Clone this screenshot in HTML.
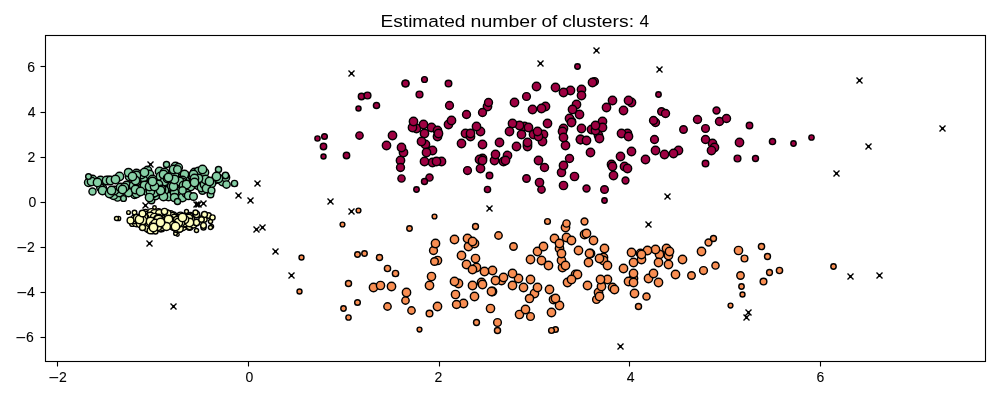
<!DOCTYPE html>
<html lang="en">
<head>
<meta charset="utf-8">
<title>Estimated number of clusters: 4</title>
<style>
html,body{margin:0;padding:0;background:#fff;}
body{width:1000px;height:400px;overflow:hidden;}
svg{display:block;}
text{font-family:"Liberation Sans",sans-serif;fill:#000;}
</style>
</head>
<body>
<svg width="1000" height="400" viewBox="0 0 1000 400">
<rect x="0" y="0" width="1000" height="400" fill="#fff"/>
<g fill="#9e0142" stroke="#000" stroke-width="1.430">
<circle cx="527.5" cy="144.5" r="4.17"/>
<circle cx="544.5" cy="167.5" r="4.04"/>
<circle cx="655.5" cy="122.5" r="4.02"/>
<circle cx="499.5" cy="142.5" r="4.17"/>
<circle cx="576.5" cy="104.5" r="4.17"/>
<circle cx="482.5" cy="158.5" r="4.17"/>
<circle cx="661.5" cy="111.5" r="3.8"/>
<circle cx="606.5" cy="107.5" r="4.17"/>
<circle cx="533.5" cy="134.5" r="4.17"/>
<circle cx="467.5" cy="170.5" r="3.91"/>
<circle cx="602.5" cy="121.5" r="4.17"/>
<circle cx="431.5" cy="127.5" r="4.17"/>
<circle cx="547.5" cy="123.5" r="4.17"/>
<circle cx="424.5" cy="79.5" r="2.9"/>
<circle cx="581.5" cy="89.5" r="4.17"/>
<circle cx="392.5" cy="135.5" r="4.17"/>
<circle cx="565.5" cy="145.5" r="4.17"/>
<circle cx="437.5" cy="130.5" r="4.17"/>
<circle cx="514.5" cy="102.5" r="4.17"/>
<circle cx="579.5" cy="114.5" r="4.17"/>
<circle cx="323.5" cy="156.5" r="2.52"/>
<circle cx="571.5" cy="121.5" r="4.17"/>
<circle cx="604.5" cy="189.5" r="3.82"/>
<circle cx="527.5" cy="146.5" r="4.17"/>
<circle cx="627.5" cy="133.5" r="4.17"/>
<circle cx="577.5" cy="66.5" r="2.73"/>
<circle cx="521.5" cy="134.5" r="4.17"/>
<circle cx="503.5" cy="161.5" r="4.17"/>
<circle cx="405.5" cy="83.5" r="3.4"/>
<circle cx="346.5" cy="155.5" r="3.19"/>
<circle cx="705.5" cy="163.5" r="3.27"/>
<circle cx="570.5" cy="90.5" r="4.17"/>
<circle cx="424.5" cy="133.5" r="4.17"/>
<circle cx="465.5" cy="133.5" r="4.17"/>
<circle cx="480.5" cy="131.5" r="4.17"/>
<circle cx="425.5" cy="144.5" r="4.17"/>
<circle cx="621.5" cy="133.5" r="4.17"/>
<circle cx="631.5" cy="102.5" r="4.17"/>
<circle cx="432.5" cy="150.5" r="4.17"/>
<circle cx="516.5" cy="146.5" r="4.17"/>
<circle cx="524.5" cy="126.5" r="4.17"/>
<circle cx="664.5" cy="154.5" r="4.17"/>
<circle cx="541.5" cy="189.5" r="3.68"/>
<circle cx="361.5" cy="96.5" r="3.19"/>
<circle cx="528.5" cy="127.5" r="4.17"/>
<circle cx="569.5" cy="118.5" r="4.17"/>
<circle cx="400.5" cy="160.5" r="4.17"/>
<circle cx="561.5" cy="172.5" r="4.1"/>
<circle cx="487.5" cy="189.5" r="3.1"/>
<circle cx="519.5" cy="125.5" r="4.17"/>
<circle cx="482.5" cy="144.5" r="4.17"/>
<circle cx="712.5" cy="143.5" r="4.17"/>
<circle cx="545.5" cy="106.5" r="4.17"/>
<circle cx="572.5" cy="109.5" r="4.17"/>
<circle cx="604.5" cy="200.5" r="2.68"/>
<circle cx="586.5" cy="188.5" r="3.51"/>
<circle cx="461.5" cy="143.5" r="4.17"/>
<circle cx="401.5" cy="178.5" r="3.61"/>
<circle cx="376.5" cy="105.5" r="3.07"/>
<circle cx="581.5" cy="95.5" r="4.17"/>
<circle cx="543.5" cy="134.5" r="4.17"/>
<circle cx="421.5" cy="141.5" r="4.17"/>
<circle cx="569.5" cy="158.5" r="4.04"/>
<circle cx="487.5" cy="106.5" r="4.17"/>
<circle cx="512.5" cy="123.5" r="4.17"/>
<circle cx="580.5" cy="139.5" r="4.17"/>
<circle cx="581.5" cy="128.5" r="4.17"/>
<circle cx="479.5" cy="159.5" r="4.17"/>
<circle cx="624.5" cy="166.5" r="4.17"/>
<circle cx="625.5" cy="180.5" r="3.44"/>
<circle cx="628.5" cy="100.5" r="4.17"/>
<circle cx="448.5" cy="124.5" r="4.17"/>
<circle cx="739.5" cy="142.5" r="4.17"/>
<circle cx="509.5" cy="131.5" r="4.17"/>
<circle cx="678.5" cy="150.5" r="4.17"/>
<circle cx="697.5" cy="119.5" r="4.03"/>
<circle cx="432.5" cy="162.5" r="4.17"/>
<circle cx="419.5" cy="94.5" r="3.4"/>
<circle cx="405.5" cy="83.5" r="3.4"/>
<circle cx="358.5" cy="108.5" r="2.54"/>
<circle cx="476.5" cy="126.5" r="4.17"/>
<circle cx="470.5" cy="136.5" r="4.17"/>
<circle cx="416.5" cy="128.5" r="4.17"/>
<circle cx="714.5" cy="147.5" r="4.17"/>
<circle cx="654.5" cy="139.5" r="3.92"/>
<circle cx="653.5" cy="120.5" r="3.94"/>
<circle cx="591.5" cy="129.5" r="4.17"/>
<circle cx="716.5" cy="110.5" r="3.49"/>
<circle cx="359.5" cy="135.5" r="3.66"/>
<circle cx="793.5" cy="143.5" r="2.67"/>
<circle cx="563.5" cy="128.5" r="4.17"/>
<circle cx="541.5" cy="108.5" r="4.17"/>
<circle cx="594.5" cy="81.5" r="3.86"/>
<circle cx="749.5" cy="125.5" r="3.22"/>
<circle cx="542.5" cy="141.5" r="4.17"/>
<circle cx="590.5" cy="152.5" r="4.17"/>
<circle cx="386.5" cy="145.5" r="4.17"/>
<circle cx="611.5" cy="164.5" r="4.17"/>
<circle cx="367.5" cy="95.5" r="3.4"/>
<circle cx="494.5" cy="160.5" r="4.17"/>
<circle cx="488.5" cy="102.5" r="3.99"/>
<circle cx="448.5" cy="83.5" r="3.29"/>
<circle cx="563.5" cy="92.5" r="4.17"/>
<circle cx="737.5" cy="158.5" r="3.36"/>
<circle cx="437.5" cy="136.5" r="4.17"/>
<circle cx="655.5" cy="150.5" r="4.17"/>
<circle cx="612.5" cy="100.5" r="4.17"/>
<circle cx="627.5" cy="168.5" r="4.17"/>
<circle cx="574.5" cy="176.5" r="4.14"/>
<circle cx="711.5" cy="150.5" r="4.17"/>
<circle cx="719.5" cy="121.5" r="4.03"/>
<circle cx="538.5" cy="136.5" r="4.17"/>
<circle cx="323.5" cy="146.5" r="3.19"/>
<circle cx="598.5" cy="135.5" r="4.17"/>
<circle cx="449.5" cy="105.5" r="3.92"/>
<circle cx="423.5" cy="124.5" r="4.17"/>
<circle cx="441.5" cy="161.5" r="4.17"/>
<circle cx="620.5" cy="156.5" r="4.17"/>
<circle cx="416.5" cy="189.5" r="2.73"/>
<circle cx="562.5" cy="131.5" r="4.17"/>
<circle cx="537.5" cy="131.5" r="4.17"/>
<circle cx="438.5" cy="133.5" r="4.17"/>
<circle cx="436.5" cy="161.5" r="4.17"/>
<circle cx="673.5" cy="153.5" r="4.17"/>
<circle cx="539.5" cy="182.5" r="4.14"/>
<circle cx="595.5" cy="130.5" r="4.17"/>
<circle cx="726.5" cy="118.5" r="4.03"/>
<circle cx="599.5" cy="138.5" r="4.17"/>
<circle cx="683.5" cy="129.5" r="3.75"/>
<circle cx="612.5" cy="166.5" r="4.17"/>
<circle cx="466.5" cy="114.5" r="3.97"/>
<circle cx="555.5" cy="87.5" r="4.17"/>
<circle cx="400.5" cy="167.5" r="3.97"/>
<circle cx="527.5" cy="142.5" r="4.17"/>
<circle cx="536.5" cy="86.5" r="4.17"/>
<circle cx="495.5" cy="154.5" r="4.17"/>
<circle cx="592.5" cy="82.5" r="4.17"/>
<circle cx="705.5" cy="128.5" r="3.87"/>
<circle cx="613.5" cy="175.5" r="4.17"/>
<circle cx="429.5" cy="177.5" r="3.59"/>
<circle cx="811.5" cy="137.5" r="2.64"/>
<circle cx="602.5" cy="127.5" r="4.17"/>
<circle cx="628.5" cy="136.5" r="4.17"/>
<circle cx="403.5" cy="152.5" r="4.17"/>
<circle cx="451.5" cy="120.5" r="4.17"/>
<circle cx="482.5" cy="112.5" r="3.94"/>
<circle cx="580.5" cy="139.5" r="4.17"/>
<circle cx="480.5" cy="168.5" r="4.17"/>
<circle cx="317.5" cy="138.5" r="2.61"/>
<circle cx="658.5" cy="94.5" r="2.7"/>
<circle cx="424.5" cy="161.5" r="4.17"/>
<circle cx="424.5" cy="181.5" r="3.01"/>
<circle cx="755.5" cy="158.5" r="2.99"/>
<circle cx="401.5" cy="147.5" r="4.17"/>
<circle cx="507.5" cy="155.5" r="4.17"/>
<circle cx="489.5" cy="175.5" r="3.28"/>
<circle cx="705.5" cy="139.5" r="4.01"/>
<circle cx="470.5" cy="133.5" r="4.17"/>
<circle cx="586.5" cy="140.5" r="4.17"/>
<circle cx="563.5" cy="185.5" r="4.14"/>
<circle cx="772.5" cy="141.5" r="3.09"/>
<circle cx="505.5" cy="160.5" r="4.17"/>
<circle cx="532.5" cy="109.5" r="4.17"/>
<circle cx="631.5" cy="151.5" r="4.17"/>
<circle cx="482.5" cy="160.5" r="4.17"/>
<circle cx="645.5" cy="159.5" r="4.17"/>
<circle cx="595.5" cy="125.5" r="4.17"/>
<circle cx="412.5" cy="127.5" r="4.17"/>
<circle cx="563.5" cy="137.5" r="4.17"/>
<circle cx="538.5" cy="160.5" r="4.17"/>
<circle cx="665.5" cy="113.5" r="4.03"/>
<circle cx="571.5" cy="122.5" r="4.17"/>
<circle cx="623.5" cy="110.5" r="4.17"/>
<circle cx="526.5" cy="96.5" r="3.89"/>
<circle cx="526.5" cy="178.5" r="3.72"/>
<circle cx="563.5" cy="165.5" r="4.17"/>
<circle cx="324.5" cy="136.5" r="2.83"/>
<circle cx="426.5" cy="152.5" r="4.17"/>
<circle cx="413.5" cy="121.5" r="4.17"/>
</g>
<g fill="#f98e52" stroke="#000" stroke-width="1.430">
<circle cx="357.5" cy="302.5" r="2.83"/>
<circle cx="513.5" cy="246.5" r="3.73"/>
<circle cx="703.5" cy="270.5" r="3.91"/>
<circle cx="463.5" cy="303.5" r="4.17"/>
<circle cx="474.5" cy="296.5" r="4.17"/>
<circle cx="492.5" cy="270.5" r="4.17"/>
<circle cx="633.5" cy="262.5" r="4.17"/>
<circle cx="634.5" cy="293.5" r="4.17"/>
<circle cx="603.5" cy="257.5" r="4.17"/>
<circle cx="593.5" cy="240.5" r="4.17"/>
<circle cx="761.5" cy="246.5" r="3.09"/>
<circle cx="668.5" cy="264.5" r="4.17"/>
<circle cx="562.5" cy="267.5" r="4.17"/>
<circle cx="741.5" cy="286.5" r="2.69"/>
<circle cx="501.5" cy="280.5" r="4.17"/>
<circle cx="554.5" cy="238.5" r="4.17"/>
<circle cx="492.5" cy="291.5" r="4.17"/>
<circle cx="640.5" cy="253.5" r="4.17"/>
<circle cx="534.5" cy="293.5" r="4.17"/>
<circle cx="495.5" cy="280.5" r="4.17"/>
<circle cx="518.5" cy="278.5" r="4.17"/>
<circle cx="491.5" cy="291.5" r="4.17"/>
<circle cx="561.5" cy="260.5" r="4.17"/>
<circle cx="658.5" cy="282.5" r="4.17"/>
<circle cx="682.5" cy="259.5" r="4.17"/>
<circle cx="458.5" cy="283.5" r="4.17"/>
<circle cx="559.5" cy="248.5" r="4.17"/>
<circle cx="744.5" cy="258.5" r="3.35"/>
<circle cx="553.5" cy="299.5" r="4.17"/>
<circle cx="497.5" cy="322.5" r="3.87"/>
<circle cx="411.5" cy="310.5" r="3.69"/>
<circle cx="454.5" cy="281.5" r="4.17"/>
<circle cx="433.5" cy="250.5" r="3.95"/>
<circle cx="472.5" cy="285.5" r="4.17"/>
<circle cx="476.5" cy="267.5" r="4.17"/>
<circle cx="466.5" cy="264.5" r="4.17"/>
<circle cx="419.5" cy="329.5" r="2.41"/>
<circle cx="484.5" cy="271.5" r="4.17"/>
<circle cx="530.5" cy="316.5" r="3.87"/>
<circle cx="598.5" cy="292.5" r="4.17"/>
<circle cx="646.5" cy="296.5" r="3.56"/>
<circle cx="468.5" cy="246.5" r="4.17"/>
<circle cx="490.5" cy="308.5" r="4.12"/>
<circle cx="357.5" cy="254.5" r="2.77"/>
<circle cx="565.5" cy="227.5" r="4.17"/>
<circle cx="659.5" cy="254.5" r="4.17"/>
<circle cx="715.5" cy="265.5" r="3.59"/>
<circle cx="641.5" cy="259.5" r="4.17"/>
<circle cx="530.5" cy="279.5" r="4.17"/>
<circle cx="769.5" cy="272.5" r="2.93"/>
<circle cx="373.5" cy="287.5" r="4.17"/>
<circle cx="395.5" cy="273.5" r="3.13"/>
<circle cx="435.5" cy="243.5" r="4.17"/>
<circle cx="833.5" cy="266.5" r="2.67"/>
<circle cx="429.5" cy="313.5" r="3.33"/>
<circle cx="666.5" cy="248.5" r="4.17"/>
<circle cx="675.5" cy="274.5" r="4.17"/>
<circle cx="391.5" cy="286.5" r="4.17"/>
<circle cx="740.5" cy="275.5" r="3.71"/>
<circle cx="429.5" cy="285.5" r="4.17"/>
<circle cx="779.5" cy="270.5" r="3.12"/>
<circle cx="633.5" cy="278.5" r="4.17"/>
<circle cx="603.5" cy="260.5" r="4.17"/>
<circle cx="612.5" cy="287.5" r="4.17"/>
<circle cx="519.5" cy="314.5" r="4.12"/>
<circle cx="565.5" cy="265.5" r="4.17"/>
<circle cx="348.5" cy="317.5" r="2.64"/>
<circle cx="730.5" cy="305.5" r="2.41"/>
<circle cx="584.5" cy="234.5" r="4.17"/>
<circle cx="631.5" cy="252.5" r="4.17"/>
<circle cx="655.5" cy="249.5" r="4.17"/>
<circle cx="405.5" cy="300.5" r="3.69"/>
<circle cx="648.5" cy="278.5" r="4.17"/>
<circle cx="607.5" cy="279.5" r="4.17"/>
<circle cx="575.5" cy="274.5" r="4.17"/>
<circle cx="555.5" cy="329.5" r="2.81"/>
<circle cx="481.5" cy="282.5" r="4.17"/>
<circle cx="348.5" cy="283.5" r="3.02"/>
<circle cx="668.5" cy="255.5" r="4.17"/>
<circle cx="455.5" cy="294.5" r="4.12"/>
<circle cx="628.5" cy="281.5" r="4.17"/>
<circle cx="669.5" cy="251.5" r="4.17"/>
<circle cx="590.5" cy="253.5" r="4.17"/>
<circle cx="537.5" cy="287.5" r="4.17"/>
<circle cx="549.5" cy="289.5" r="4.17"/>
<circle cx="497.5" cy="330.5" r="3.04"/>
<circle cx="607.5" cy="265.5" r="4.17"/>
<circle cx="498.5" cy="235.5" r="3.7"/>
<circle cx="434.5" cy="216.5" r="2.39"/>
<circle cx="387.5" cy="268.5" r="3.11"/>
<circle cx="475.5" cy="258.5" r="4.14"/>
<circle cx="691.5" cy="275.5" r="3.77"/>
<circle cx="431.5" cy="276.5" r="4.1"/>
<circle cx="523.5" cy="287.5" r="4.17"/>
<circle cx="599.5" cy="258.5" r="4.17"/>
<circle cx="461.5" cy="255.5" r="4.17"/>
<circle cx="342.5" cy="224.5" r="2.37"/>
<circle cx="633.5" cy="273.5" r="4.17"/>
<circle cx="437.5" cy="260.5" r="4.14"/>
<circle cx="638.5" cy="306.5" r="3.02"/>
<circle cx="474.5" cy="243.5" r="4.17"/>
<circle cx="701.5" cy="251.5" r="4.17"/>
<circle cx="566.5" cy="223.5" r="3.62"/>
<circle cx="647.5" cy="250.5" r="4.17"/>
<circle cx="467.5" cy="238.5" r="4.17"/>
<circle cx="596.5" cy="299.5" r="3.87"/>
<circle cx="364.5" cy="253.5" r="2.72"/>
<circle cx="512.5" cy="285.5" r="4.17"/>
<circle cx="641.5" cy="254.5" r="4.17"/>
<circle cx="601.5" cy="286.5" r="4.17"/>
<circle cx="566.5" cy="237.5" r="4.17"/>
<circle cx="577.5" cy="274.5" r="4.17"/>
<circle cx="551.5" cy="330.5" r="2.87"/>
<circle cx="586.5" cy="233.5" r="4.17"/>
<circle cx="548.5" cy="265.5" r="4.17"/>
<circle cx="571.5" cy="240.5" r="4.17"/>
<circle cx="358.5" cy="210.5" r="2.39"/>
<circle cx="567.5" cy="282.5" r="4.17"/>
<circle cx="559.5" cy="305.5" r="4.17"/>
<circle cx="600.5" cy="279.5" r="4.17"/>
<circle cx="584.5" cy="221.5" r="3.43"/>
<circle cx="555.5" cy="298.5" r="4.17"/>
<circle cx="512.5" cy="273.5" r="4.17"/>
<circle cx="623.5" cy="268.5" r="4.17"/>
<circle cx="589.5" cy="253.5" r="4.17"/>
<circle cx="604.5" cy="248.5" r="4.17"/>
<circle cx="708.5" cy="242.5" r="3.46"/>
<circle cx="633.5" cy="282.5" r="4.17"/>
<circle cx="387.5" cy="306.5" r="3.69"/>
<circle cx="472.5" cy="269.5" r="4.17"/>
<circle cx="476.5" cy="322.5" r="2.96"/>
<circle cx="530.5" cy="259.5" r="4.17"/>
<circle cx="437.5" cy="306.5" r="4.17"/>
<circle cx="343.5" cy="308.5" r="2.69"/>
<circle cx="559.5" cy="243.5" r="4.17"/>
<circle cx="561.5" cy="253.5" r="4.17"/>
<circle cx="547.5" cy="221.5" r="2.88"/>
<circle cx="653.5" cy="273.5" r="4.17"/>
<circle cx="551.5" cy="312.5" r="4.17"/>
<circle cx="301.5" cy="257.5" r="2.47"/>
<circle cx="503.5" cy="277.5" r="4.17"/>
<circle cx="767.5" cy="256.5" r="2.98"/>
<circle cx="525.5" cy="309.5" r="4.17"/>
<circle cx="587.5" cy="285.5" r="4.17"/>
<circle cx="537.5" cy="251.5" r="4.17"/>
<circle cx="409.5" cy="228.5" r="2.72"/>
<circle cx="475.5" cy="226.5" r="2.96"/>
<circle cx="456.5" cy="304.5" r="4.02"/>
<circle cx="763.5" cy="281.5" r="3.34"/>
<circle cx="380.5" cy="285.5" r="4.11"/>
<circle cx="571.5" cy="279.5" r="4.17"/>
<circle cx="454.5" cy="239.5" r="4.17"/>
<circle cx="541.5" cy="260.5" r="4.17"/>
<circle cx="738.5" cy="250.5" r="4.13"/>
<circle cx="434.5" cy="261.5" r="3.82"/>
<circle cx="472.5" cy="241.5" r="4.17"/>
<circle cx="713.5" cy="238.5" r="2.97"/>
<circle cx="614.5" cy="289.5" r="4.17"/>
<circle cx="742.5" cy="294.5" r="2.48"/>
<circle cx="599.5" cy="296.5" r="4.17"/>
<circle cx="578.5" cy="250.5" r="4.17"/>
<circle cx="588.5" cy="262.5" r="4.17"/>
<circle cx="658.5" cy="262.5" r="4.17"/>
<circle cx="529.5" cy="298.5" r="4.09"/>
<circle cx="379.5" cy="257.5" r="3.06"/>
<circle cx="543.5" cy="246.5" r="4.17"/>
<circle cx="482.5" cy="284.5" r="4.17"/>
<circle cx="299.5" cy="291.5" r="2.49"/>
<circle cx="406.5" cy="292.5" r="4.17"/>
</g>
<g fill="#ffffbe" stroke="#000" stroke-width="1.430">
<circle cx="159.5" cy="219.5" r="4.17"/>
<circle cx="152.5" cy="224.5" r="4.17"/>
<circle cx="190.5" cy="215.5" r="3.11"/>
<circle cx="189.5" cy="226.5" r="3.88"/>
<circle cx="185.5" cy="220.5" r="4.17"/>
<circle cx="145.5" cy="217.5" r="4.17"/>
<circle cx="154.5" cy="207.5" r="1.76"/>
<circle cx="179.5" cy="217.5" r="4.17"/>
<circle cx="147.5" cy="218.5" r="4.17"/>
<circle cx="159.5" cy="222.5" r="4.17"/>
<circle cx="161.5" cy="221.5" r="4.17"/>
<circle cx="172.5" cy="225.5" r="4.17"/>
<circle cx="159.5" cy="215.5" r="4.01"/>
<circle cx="154.5" cy="222.5" r="4.17"/>
<circle cx="158.5" cy="212.5" r="3.8"/>
<circle cx="203.5" cy="217.5" r="2.96"/>
<circle cx="184.5" cy="224.5" r="4.17"/>
<circle cx="143.5" cy="217.5" r="4.17"/>
<circle cx="160.5" cy="222.5" r="4.17"/>
<circle cx="153.5" cy="214.5" r="3.84"/>
<circle cx="128.5" cy="212.5" r="1.85"/>
<circle cx="147.5" cy="216.5" r="4.17"/>
<circle cx="136.5" cy="219.5" r="4.17"/>
<circle cx="144.5" cy="223.5" r="4.17"/>
<circle cx="208.5" cy="215.5" r="2.81"/>
<circle cx="155.5" cy="218.5" r="4.17"/>
<circle cx="183.5" cy="222.5" r="4.17"/>
<circle cx="196.5" cy="230.5" r="2.07"/>
<circle cx="155.5" cy="223.5" r="4.17"/>
<circle cx="166.5" cy="222.5" r="4.17"/>
<circle cx="211.5" cy="226.5" r="2.04"/>
<circle cx="161.5" cy="228.5" r="3.34"/>
<circle cx="165.5" cy="216.5" r="4.17"/>
<circle cx="173.5" cy="215.5" r="3.57"/>
<circle cx="183.5" cy="224.5" r="4.17"/>
<circle cx="157.5" cy="223.5" r="4.17"/>
<circle cx="170.5" cy="223.5" r="4.17"/>
<circle cx="154.5" cy="214.5" r="3.88"/>
<circle cx="174.5" cy="226.5" r="4.17"/>
<circle cx="177.5" cy="234.5" r="1.69"/>
<circle cx="210.5" cy="227.5" r="2.07"/>
<circle cx="186.5" cy="211.5" r="1.97"/>
<circle cx="134.5" cy="212.5" r="2.3"/>
<circle cx="152.5" cy="229.5" r="4.17"/>
<circle cx="160.5" cy="227.5" r="4.17"/>
<circle cx="167.5" cy="224.5" r="4.17"/>
<circle cx="181.5" cy="226.5" r="4.14"/>
<circle cx="179.5" cy="228.5" r="3.76"/>
<circle cx="182.5" cy="226.5" r="4.17"/>
<circle cx="167.5" cy="220.5" r="4.17"/>
<circle cx="154.5" cy="223.5" r="4.17"/>
<circle cx="185.5" cy="219.5" r="4.17"/>
<circle cx="164.5" cy="216.5" r="4.17"/>
<circle cx="150.5" cy="219.5" r="4.17"/>
<circle cx="169.5" cy="219.5" r="4.17"/>
<circle cx="161.5" cy="220.5" r="4.17"/>
<circle cx="180.5" cy="221.5" r="4.17"/>
<circle cx="145.5" cy="217.5" r="4.17"/>
<circle cx="164.5" cy="222.5" r="4.17"/>
<circle cx="138.5" cy="221.5" r="4.02"/>
<circle cx="180.5" cy="223.5" r="4.17"/>
<circle cx="185.5" cy="222.5" r="4.17"/>
<circle cx="160.5" cy="220.5" r="4.17"/>
<circle cx="175.5" cy="233.5" r="1.84"/>
<circle cx="118.5" cy="218.5" r="2.14"/>
<circle cx="196.5" cy="214.5" r="3.19"/>
<circle cx="165.5" cy="219.5" r="4.17"/>
<circle cx="187.5" cy="223.5" r="4.17"/>
<circle cx="132.5" cy="223.5" r="2.89"/>
<circle cx="156.5" cy="222.5" r="4.17"/>
<circle cx="136.5" cy="222.5" r="4.17"/>
<circle cx="152.5" cy="218.5" r="4.17"/>
<circle cx="154.5" cy="221.5" r="4.17"/>
<circle cx="190.5" cy="219.5" r="4.17"/>
<circle cx="172.5" cy="218.5" r="4.17"/>
<circle cx="170.5" cy="219.5" r="4.17"/>
<circle cx="189.5" cy="226.5" r="3.11"/>
<circle cx="145.5" cy="212.5" r="3.1"/>
<circle cx="193.5" cy="224.5" r="3.4"/>
<circle cx="134.5" cy="219.5" r="4.17"/>
<circle cx="167.5" cy="219.5" r="4.17"/>
<circle cx="155.5" cy="223.5" r="4.17"/>
<circle cx="180.5" cy="219.5" r="4.17"/>
<circle cx="146.5" cy="221.5" r="4.14"/>
<circle cx="182.5" cy="220.5" r="4.17"/>
<circle cx="116.5" cy="218.5" r="2"/>
<circle cx="195.5" cy="212.5" r="2.53"/>
<circle cx="166.5" cy="219.5" r="4.17"/>
<circle cx="180.5" cy="215.5" r="3.35"/>
<circle cx="189.5" cy="216.5" r="3.35"/>
<circle cx="169.5" cy="218.5" r="4.17"/>
<circle cx="147.5" cy="215.5" r="4.17"/>
<circle cx="151.5" cy="212.5" r="3.88"/>
<circle cx="159.5" cy="224.5" r="4.17"/>
<circle cx="137.5" cy="218.5" r="4.17"/>
<circle cx="150.5" cy="223.5" r="4.17"/>
<circle cx="204.5" cy="219.5" r="2.64"/>
<circle cx="177.5" cy="222.5" r="4.17"/>
<circle cx="166.5" cy="221.5" r="4.17"/>
<circle cx="176.5" cy="228.5" r="3.74"/>
<circle cx="162.5" cy="226.5" r="4.03"/>
<circle cx="160.5" cy="220.5" r="4.17"/>
<circle cx="130.5" cy="220.5" r="3.36"/>
<circle cx="182.5" cy="223.5" r="4.17"/>
<circle cx="149.5" cy="223.5" r="4.17"/>
<circle cx="155.5" cy="223.5" r="4.17"/>
<circle cx="146.5" cy="224.5" r="4.17"/>
<circle cx="152.5" cy="227.5" r="4.17"/>
<circle cx="181.5" cy="220.5" r="4.17"/>
<circle cx="170.5" cy="214.5" r="3.91"/>
<circle cx="163.5" cy="223.5" r="4.17"/>
<circle cx="175.5" cy="218.5" r="4.17"/>
<circle cx="172.5" cy="221.5" r="4.17"/>
<circle cx="142.5" cy="223.5" r="4.17"/>
<circle cx="172.5" cy="225.5" r="4.17"/>
<circle cx="145.5" cy="222.5" r="4.17"/>
<circle cx="170.5" cy="218.5" r="4.17"/>
<circle cx="204.5" cy="214.5" r="2.96"/>
<circle cx="164.5" cy="216.5" r="4.17"/>
<circle cx="155.5" cy="223.5" r="4.17"/>
<circle cx="171.5" cy="216.5" r="4.17"/>
<circle cx="185.5" cy="222.5" r="4.17"/>
<circle cx="154.5" cy="213.5" r="3.88"/>
<circle cx="175.5" cy="219.5" r="4.17"/>
<circle cx="185.5" cy="219.5" r="4.17"/>
<circle cx="150.5" cy="216.5" r="4.17"/>
<circle cx="162.5" cy="217.5" r="4.17"/>
<circle cx="159.5" cy="213.5" r="3.88"/>
<circle cx="175.5" cy="224.5" r="4.17"/>
<circle cx="168.5" cy="222.5" r="4.17"/>
<circle cx="154.5" cy="226.5" r="4.17"/>
<circle cx="176.5" cy="221.5" r="4.17"/>
<circle cx="203.5" cy="227.5" r="2.5"/>
<circle cx="174.5" cy="218.5" r="4.17"/>
<circle cx="170.5" cy="222.5" r="4.17"/>
<circle cx="144.5" cy="217.5" r="4.17"/>
<circle cx="188.5" cy="218.5" r="4.17"/>
<circle cx="196.5" cy="222.5" r="3.18"/>
<circle cx="160.5" cy="220.5" r="4.17"/>
<circle cx="166.5" cy="213.5" r="3.52"/>
<circle cx="140.5" cy="223.5" r="4.17"/>
<circle cx="170.5" cy="220.5" r="4.17"/>
<circle cx="165.5" cy="224.5" r="4.17"/>
<circle cx="158.5" cy="221.5" r="4.17"/>
<circle cx="145.5" cy="223.5" r="4.17"/>
<circle cx="152.5" cy="227.5" r="4.17"/>
<circle cx="156.5" cy="221.5" r="4.17"/>
<circle cx="212.5" cy="217.5" r="2.62"/>
<circle cx="143.5" cy="217.5" r="4.17"/>
<circle cx="189.5" cy="222.5" r="4.17"/>
<circle cx="167.5" cy="213.5" r="3.42"/>
<circle cx="165.5" cy="224.5" r="4.17"/>
<circle cx="148.5" cy="228.5" r="4.17"/>
<circle cx="147.5" cy="227.5" r="4.17"/>
<circle cx="154.5" cy="217.5" r="4.15"/>
<circle cx="157.5" cy="219.5" r="4.17"/>
<circle cx="157.5" cy="226.5" r="4.17"/>
<circle cx="164.5" cy="211.5" r="3.16"/>
<circle cx="201.5" cy="219.5" r="2.75"/>
<circle cx="149.5" cy="222.5" r="4.17"/>
<circle cx="178.5" cy="219.5" r="4.17"/>
<circle cx="179.5" cy="228.5" r="3.7"/>
<circle cx="180.5" cy="218.5" r="4.17"/>
<circle cx="153.5" cy="225.5" r="4.17"/>
<circle cx="203.5" cy="225.5" r="2.87"/>
<circle cx="142.5" cy="220.5" r="4.17"/>
<circle cx="139.5" cy="219.5" r="4.17"/>
<circle cx="158.5" cy="218.5" r="4.17"/>
<circle cx="210.5" cy="221.5" r="2.06"/>
<circle cx="184.5" cy="219.5" r="4.17"/>
<circle cx="180.5" cy="222.5" r="4.17"/>
<circle cx="155.5" cy="231.5" r="2.47"/>
<circle cx="177.5" cy="220.5" r="4.17"/>
<circle cx="168.5" cy="220.5" r="4.17"/>
<circle cx="177.5" cy="223.5" r="4.17"/>
<circle cx="142.5" cy="213.5" r="3.32"/>
<circle cx="178.5" cy="222.5" r="4.17"/>
<circle cx="182.5" cy="217.5" r="4.17"/>
<circle cx="168.5" cy="219.5" r="4.17"/>
<circle cx="150.5" cy="221.5" r="4.17"/>
<circle cx="158.5" cy="219.5" r="4.17"/>
<circle cx="142.5" cy="227.5" r="3.05"/>
<circle cx="153.5" cy="225.5" r="4.17"/>
<circle cx="173.5" cy="225.5" r="4.17"/>
<circle cx="150.5" cy="230.5" r="3.31"/>
<circle cx="175.5" cy="226.5" r="4.17"/>
<circle cx="155.5" cy="223.5" r="4.17"/>
<circle cx="166.5" cy="226.5" r="3.94"/>
<circle cx="153.5" cy="227.5" r="4.17"/>
<circle cx="160.5" cy="222.5" r="4.17"/>
</g>
<g fill="#86cfa5" stroke="#000" stroke-width="1.430">
<circle cx="154.5" cy="187.5" r="4.17"/>
<circle cx="172.5" cy="182.5" r="4.17"/>
<circle cx="187.5" cy="185.5" r="4.17"/>
<circle cx="210.5" cy="194.5" r="3.29"/>
<circle cx="174.5" cy="180.5" r="4.17"/>
<circle cx="117.5" cy="197.5" r="3.64"/>
<circle cx="198.5" cy="183.5" r="4.17"/>
<circle cx="151.5" cy="184.5" r="4.17"/>
<circle cx="88.5" cy="182.5" r="4.01"/>
<circle cx="158.5" cy="188.5" r="4.17"/>
<circle cx="145.5" cy="181.5" r="4.17"/>
<circle cx="145.5" cy="187.5" r="4.17"/>
<circle cx="141.5" cy="183.5" r="4.17"/>
<circle cx="179.5" cy="178.5" r="4.17"/>
<circle cx="175.5" cy="166.5" r="4.17"/>
<circle cx="140.5" cy="186.5" r="4.17"/>
<circle cx="187.5" cy="176.5" r="4.17"/>
<circle cx="151.5" cy="200.5" r="3.24"/>
<circle cx="165.5" cy="193.5" r="4.17"/>
<circle cx="144.5" cy="183.5" r="4.17"/>
<circle cx="119.5" cy="176.5" r="4.17"/>
<circle cx="155.5" cy="195.5" r="4.17"/>
<circle cx="175.5" cy="179.5" r="4.17"/>
<circle cx="166.5" cy="164.5" r="3.05"/>
<circle cx="102.5" cy="188.5" r="4.17"/>
<circle cx="151.5" cy="194.5" r="4.17"/>
<circle cx="136.5" cy="173.5" r="4.17"/>
<circle cx="108.5" cy="180.5" r="4.17"/>
<circle cx="137.5" cy="186.5" r="4.17"/>
<circle cx="218.5" cy="169.5" r="3.05"/>
<circle cx="154.5" cy="192.5" r="4.17"/>
<circle cx="100.5" cy="180.5" r="4.17"/>
<circle cx="159.5" cy="171.5" r="4.17"/>
<circle cx="166.5" cy="174.5" r="4.17"/>
<circle cx="113.5" cy="195.5" r="4.05"/>
<circle cx="155.5" cy="190.5" r="4.17"/>
<circle cx="160.5" cy="179.5" r="4.17"/>
<circle cx="168.5" cy="196.5" r="4.17"/>
<circle cx="196.5" cy="183.5" r="4.17"/>
<circle cx="155.5" cy="189.5" r="4.17"/>
<circle cx="208.5" cy="182.5" r="4.17"/>
<circle cx="215.5" cy="179.5" r="4.17"/>
<circle cx="178.5" cy="167.5" r="3.93"/>
<circle cx="197.5" cy="172.5" r="4.17"/>
<circle cx="222.5" cy="181.5" r="4.17"/>
<circle cx="100.5" cy="187.5" r="3.81"/>
<circle cx="160.5" cy="191.5" r="4.17"/>
<circle cx="134.5" cy="194.5" r="3.91"/>
<circle cx="148.5" cy="180.5" r="4.17"/>
<circle cx="152.5" cy="188.5" r="4.17"/>
<circle cx="141.5" cy="178.5" r="4.17"/>
<circle cx="92.5" cy="179.5" r="4.17"/>
<circle cx="147.5" cy="174.5" r="4.17"/>
<circle cx="180.5" cy="183.5" r="4.17"/>
<circle cx="174.5" cy="183.5" r="4.17"/>
<circle cx="185.5" cy="179.5" r="4.17"/>
<circle cx="202.5" cy="190.5" r="3.74"/>
<circle cx="225.5" cy="177.5" r="4.17"/>
<circle cx="178.5" cy="175.5" r="4.17"/>
<circle cx="178.5" cy="178.5" r="4.17"/>
<circle cx="179.5" cy="180.5" r="4.17"/>
<circle cx="147.5" cy="170.5" r="4.17"/>
<circle cx="160.5" cy="185.5" r="4.17"/>
<circle cx="175.5" cy="190.5" r="4.17"/>
<circle cx="133.5" cy="183.5" r="4.17"/>
<circle cx="225.5" cy="175.5" r="3.18"/>
<circle cx="184.5" cy="174.5" r="4.17"/>
<circle cx="194.5" cy="182.5" r="4.17"/>
<circle cx="194.5" cy="183.5" r="4.17"/>
<circle cx="165.5" cy="181.5" r="4.17"/>
<circle cx="155.5" cy="187.5" r="4.17"/>
<circle cx="201.5" cy="183.5" r="4.17"/>
<circle cx="182.5" cy="180.5" r="4.17"/>
<circle cx="119.5" cy="192.5" r="4.17"/>
<circle cx="194.5" cy="172.5" r="4.17"/>
<circle cx="174.5" cy="192.5" r="4.17"/>
<circle cx="143.5" cy="181.5" r="4.17"/>
<circle cx="165.5" cy="183.5" r="4.17"/>
<circle cx="182.5" cy="182.5" r="4.17"/>
<circle cx="198.5" cy="185.5" r="4.17"/>
<circle cx="160.5" cy="183.5" r="4.17"/>
<circle cx="196.5" cy="174.5" r="4.17"/>
<circle cx="147.5" cy="191.5" r="4.17"/>
<circle cx="102.5" cy="190.5" r="4.17"/>
<circle cx="218.5" cy="178.5" r="4.17"/>
<circle cx="179.5" cy="181.5" r="4.17"/>
<circle cx="114.5" cy="190.5" r="4.17"/>
<circle cx="157.5" cy="184.5" r="4.17"/>
<circle cx="171.5" cy="186.5" r="4.17"/>
<circle cx="182.5" cy="197.5" r="4.17"/>
<circle cx="196.5" cy="180.5" r="4.17"/>
<circle cx="128.5" cy="192.5" r="4.17"/>
<circle cx="198.5" cy="171.5" r="4.17"/>
<circle cx="174.5" cy="174.5" r="4.17"/>
<circle cx="174.5" cy="197.5" r="4.08"/>
<circle cx="190.5" cy="186.5" r="4.17"/>
<circle cx="201.5" cy="187.5" r="4.17"/>
<circle cx="163.5" cy="179.5" r="4.17"/>
<circle cx="186.5" cy="193.5" r="4.17"/>
<circle cx="188.5" cy="195.5" r="4.08"/>
<circle cx="183.5" cy="185.5" r="4.17"/>
<circle cx="91.5" cy="181.5" r="4.17"/>
<circle cx="136.5" cy="184.5" r="4.17"/>
<circle cx="204.5" cy="184.5" r="4.17"/>
<circle cx="186.5" cy="184.5" r="4.17"/>
<circle cx="129.5" cy="176.5" r="4.17"/>
<circle cx="164.5" cy="172.5" r="4.17"/>
<circle cx="106.5" cy="180.5" r="4.17"/>
<circle cx="136.5" cy="181.5" r="4.17"/>
<circle cx="92.5" cy="191.5" r="3.56"/>
<circle cx="164.5" cy="190.5" r="4.17"/>
<circle cx="182.5" cy="190.5" r="3.68"/>
<circle cx="120.5" cy="187.5" r="4.17"/>
<circle cx="177.5" cy="201.5" r="3.06"/>
<circle cx="193.5" cy="196.5" r="3.83"/>
<circle cx="211.5" cy="183.5" r="4.17"/>
<circle cx="216.5" cy="176.5" r="4.17"/>
<circle cx="173.5" cy="186.5" r="4.17"/>
<circle cx="206.5" cy="188.5" r="4.17"/>
<circle cx="204.5" cy="172.5" r="4.17"/>
<circle cx="143.5" cy="177.5" r="4.17"/>
<circle cx="141.5" cy="174.5" r="4.17"/>
<circle cx="149.5" cy="174.5" r="4.17"/>
<circle cx="157.5" cy="189.5" r="4.17"/>
<circle cx="150.5" cy="189.5" r="4.17"/>
<circle cx="160.5" cy="176.5" r="4.17"/>
<circle cx="205.5" cy="179.5" r="4.17"/>
<circle cx="97.5" cy="182.5" r="4.17"/>
<circle cx="154.5" cy="192.5" r="4.17"/>
<circle cx="163.5" cy="182.5" r="4.17"/>
<circle cx="198.5" cy="178.5" r="4.17"/>
<circle cx="126.5" cy="185.5" r="4.17"/>
<circle cx="202.5" cy="169.5" r="4.17"/>
<circle cx="192.5" cy="176.5" r="4.17"/>
<circle cx="167.5" cy="177.5" r="4.17"/>
<circle cx="136.5" cy="181.5" r="4.17"/>
<circle cx="136.5" cy="175.5" r="4.17"/>
<circle cx="109.5" cy="193.5" r="4.17"/>
<circle cx="133.5" cy="185.5" r="4.17"/>
<circle cx="136.5" cy="193.5" r="4.17"/>
<circle cx="163.5" cy="196.5" r="4.17"/>
<circle cx="144.5" cy="185.5" r="4.17"/>
<circle cx="234.5" cy="183.5" r="3.14"/>
<circle cx="164.5" cy="181.5" r="4.17"/>
<circle cx="163.5" cy="174.5" r="4.17"/>
<circle cx="173.5" cy="169.5" r="4.17"/>
<circle cx="128.5" cy="172.5" r="4.07"/>
<circle cx="150.5" cy="190.5" r="4.17"/>
<circle cx="158.5" cy="184.5" r="4.17"/>
<circle cx="211.5" cy="190.5" r="3.38"/>
<circle cx="161.5" cy="189.5" r="4.17"/>
<circle cx="193.5" cy="174.5" r="4.17"/>
<circle cx="135.5" cy="180.5" r="4.17"/>
<circle cx="135.5" cy="189.5" r="4.17"/>
<circle cx="150.5" cy="191.5" r="4.17"/>
<circle cx="209.5" cy="181.5" r="4.17"/>
<circle cx="110.5" cy="180.5" r="4.17"/>
<circle cx="88.5" cy="176.5" r="2.84"/>
<circle cx="149.5" cy="186.5" r="4.17"/>
<circle cx="140.5" cy="191.5" r="4.17"/>
<circle cx="226.5" cy="184.5" r="3.66"/>
<circle cx="149.5" cy="197.5" r="4.13"/>
<circle cx="132.5" cy="176.5" r="4.17"/>
<circle cx="124.5" cy="187.5" r="4.17"/>
<circle cx="160.5" cy="190.5" r="4.17"/>
<circle cx="152.5" cy="179.5" r="4.17"/>
<circle cx="111.5" cy="190.5" r="4.17"/>
<circle cx="167.5" cy="178.5" r="4.17"/>
<circle cx="154.5" cy="186.5" r="4.17"/>
<circle cx="193.5" cy="180.5" r="4.17"/>
<circle cx="122.5" cy="189.5" r="4.17"/>
<circle cx="194.5" cy="178.5" r="4.17"/>
<circle cx="144.5" cy="172.5" r="4.17"/>
<circle cx="152.5" cy="181.5" r="4.17"/>
<circle cx="194.5" cy="182.5" r="4.17"/>
<circle cx="174.5" cy="179.5" r="4.17"/>
<circle cx="168.5" cy="177.5" r="4.17"/>
<circle cx="123.5" cy="198.5" r="2.89"/>
<circle cx="115.5" cy="179.5" r="4.17"/>
<circle cx="177.5" cy="169.5" r="3.86"/>
</g>
<path d="M537.5 60.5l6 6m-6 0l6 -6M146.5 240.5l6 6m-6 0l6 -6M259.5 224.5l6 6m-6 0l6 -6M254.5 180.5l6 6m-6 0l6 -6M142.5 202.5l6 6m-6 0l6 -6M235.5 192.5l6 6m-6 0l6 -6M745.5 309.5l6 6m-6 0l6 -6M656.5 66.5l6 6m-6 0l6 -6M348.5 208.5l6 6m-6 0l6 -6M856.5 77.5l6 6m-6 0l6 -6M253.5 226.5l6 6m-6 0l6 -6M348.5 70.5l6 6m-6 0l6 -6M617.5 343.5l6 6m-6 0l6 -6M743.5 314.5l6 6m-6 0l6 -6M272.5 248.5l6 6m-6 0l6 -6M288.5 272.5l6 6m-6 0l6 -6M147.5 161.5l6 6m-6 0l6 -6M195.5 201.5l6 6m-6 0l6 -6M664.5 193.5l6 6m-6 0l6 -6M170.5 303.5l6 6m-6 0l6 -6M247.5 197.5l6 6m-6 0l6 -6M593.5 47.5l6 6m-6 0l6 -6M486.5 205.5l6 6m-6 0l6 -6M193.5 201.5l6 6m-6 0l6 -6M200.5 200.5l6 6m-6 0l6 -6M939.5 125.5l6 6m-6 0l6 -6M645.5 221.5l6 6m-6 0l6 -6M865.5 143.5l6 6m-6 0l6 -6M833.5 170.5l6 6m-6 0l6 -6M876.5 272.5l6 6m-6 0l6 -6M327.5 198.5l6 6m-6 0l6 -6M847.5 273.5l6 6m-6 0l6 -6" fill="none" stroke="#000" stroke-width="1.389" stroke-linecap="butt"/>
<path d="M538.9 63.5l1.6 -1.6l1.6 1.6l-1.6 1.6zM147.9 243.5l1.6 -1.6l1.6 1.6l-1.6 1.6zM260.9 227.5l1.6 -1.6l1.6 1.6l-1.6 1.6zM255.9 183.5l1.6 -1.6l1.6 1.6l-1.6 1.6zM143.9 205.5l1.6 -1.6l1.6 1.6l-1.6 1.6zM236.9 195.5l1.6 -1.6l1.6 1.6l-1.6 1.6zM746.9 312.5l1.6 -1.6l1.6 1.6l-1.6 1.6zM657.9 69.5l1.6 -1.6l1.6 1.6l-1.6 1.6zM349.9 211.5l1.6 -1.6l1.6 1.6l-1.6 1.6zM857.9 80.5l1.6 -1.6l1.6 1.6l-1.6 1.6zM254.9 229.5l1.6 -1.6l1.6 1.6l-1.6 1.6zM349.9 73.5l1.6 -1.6l1.6 1.6l-1.6 1.6zM618.9 346.5l1.6 -1.6l1.6 1.6l-1.6 1.6zM744.9 317.5l1.6 -1.6l1.6 1.6l-1.6 1.6zM273.9 251.5l1.6 -1.6l1.6 1.6l-1.6 1.6zM289.9 275.5l1.6 -1.6l1.6 1.6l-1.6 1.6zM148.9 164.5l1.6 -1.6l1.6 1.6l-1.6 1.6zM196.9 204.5l1.6 -1.6l1.6 1.6l-1.6 1.6zM665.9 196.5l1.6 -1.6l1.6 1.6l-1.6 1.6zM171.9 306.5l1.6 -1.6l1.6 1.6l-1.6 1.6zM248.9 200.5l1.6 -1.6l1.6 1.6l-1.6 1.6zM594.9 50.5l1.6 -1.6l1.6 1.6l-1.6 1.6zM487.9 208.5l1.6 -1.6l1.6 1.6l-1.6 1.6zM194.9 204.5l1.6 -1.6l1.6 1.6l-1.6 1.6zM201.9 203.5l1.6 -1.6l1.6 1.6l-1.6 1.6zM940.9 128.5l1.6 -1.6l1.6 1.6l-1.6 1.6zM646.9 224.5l1.6 -1.6l1.6 1.6l-1.6 1.6zM866.9 146.5l1.6 -1.6l1.6 1.6l-1.6 1.6zM834.9 173.5l1.6 -1.6l1.6 1.6l-1.6 1.6zM877.9 275.5l1.6 -1.6l1.6 1.6l-1.6 1.6zM328.9 201.5l1.6 -1.6l1.6 1.6l-1.6 1.6zM848.9 276.5l1.6 -1.6l1.6 1.6l-1.6 1.6z" fill="#000"/>
<rect x="45.5" y="35.5" width="940" height="326" fill="none" stroke="#000" stroke-width="1.111"/>
<g fill="none" stroke="#000" stroke-width="1.111">
<path d="M57.5 361.5v5"/>
<path d="M248.5 361.5v5"/>
<path d="M439.5 361.5v5"/>
<path d="M629.5 361.5v5"/>
<path d="M820.5 361.5v5"/>
<path d="M45.5 66.5h-5"/>
<path d="M45.5 112.5h-5"/>
<path d="M45.5 157.5h-5"/>
<path d="M45.5 202.5h-5"/>
<path d="M45.5 247.5h-5"/>
<path d="M45.5 292.5h-5"/>
<path d="M45.5 337.5h-5"/>
</g>
<g style="will-change:opacity">
<g font-size="14" text-anchor="middle" stroke="#000" stroke-width="0.1">
<text y="382"><tspan x="53.73" dy="1.2" font-size="16" textLength="10.3" lengthAdjust="spacingAndGlyphs">−</tspan><tspan x="62.91" dy="-1.2">2</tspan></text>
<text x="249.51" y="382">0</text>
<text x="438.33" y="382">2</text>
<text x="630.56" y="382">4</text>
<text x="820.41" y="382">6</text>
<text x="31.26" y="72">6</text>
<text x="31.6" y="117">4</text>
<text x="31.3" y="162">2</text>
<text x="32.44" y="207">0</text>
<text y="252"><tspan x="21.57" dy="1.2" font-size="16" textLength="10.3" lengthAdjust="spacingAndGlyphs">−</tspan><tspan x="30.84" dy="-1.2">2</tspan></text>
<text y="297"><tspan x="21.57" dy="1.2" font-size="16" textLength="10.3" lengthAdjust="spacingAndGlyphs">−</tspan><tspan x="30.95" dy="-1.2">4</tspan></text>
<text y="342"><tspan x="20.57" dy="1.2" font-size="16" textLength="10.3" lengthAdjust="spacingAndGlyphs">−</tspan><tspan x="30" dy="-1.2">6</tspan></text>
</g>
<text y="27" font-size="16.7" style="fill:#000"><tspan x="380.55" textLength="84.9" lengthAdjust="spacingAndGlyphs">Estimated</tspan> <tspan x="470.55" textLength="66.1" lengthAdjust="spacingAndGlyphs">number</tspan> <tspan x="541.4" textLength="15.9" lengthAdjust="spacingAndGlyphs">of</tspan> <tspan x="562.15" textLength="71.9" lengthAdjust="spacingAndGlyphs">clusters:</tspan> <tspan x="639.4" textLength="9.6" lengthAdjust="spacingAndGlyphs">4</tspan></text>
</g>
</svg>
</body>
</html>
